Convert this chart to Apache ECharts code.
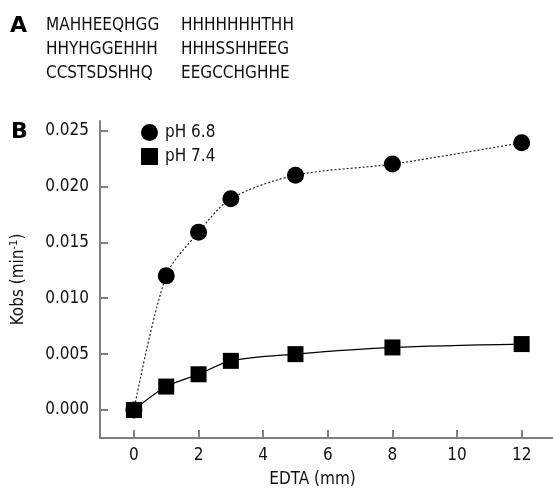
<!DOCTYPE html>
<html>
<head>
<meta charset="utf-8">
<script src="https://cdn.jsdelivr.net/npm/echarts@6/dist/echarts.min.js"></script>
<style>
html,body{margin:0;padding:0;background:#fff;}
#c{width:553px;height:493px;}
</style>
</head>
<body>
<div id="c"></div>
<script>
// ---- data ----
const edta = [0, 1, 2, 3, 5, 8, 12];
const ph68 = [0, 0.0120, 0.0159, 0.0189, 0.0210, 0.0220, 0.0239];
const ph74 = [0, 0.0021, 0.0032, 0.0044, 0.0050, 0.0056, 0.0059];
const xTicks = [0, 2, 4, 6, 8, 10, 12];
const yTicks = [0, 0.005, 0.010, 0.015, 0.020, 0.025];
const seqCol1 = ['MAHHEEQHGG', 'HHYHGGEHHH', 'CCSTSDSHHQ'];
const seqCol2 = ['HHHHHHHTHH', 'HHHSSHHEEG', 'EEGCCHGHHE'];
const seriesNames = ['pH 6.8', 'pH 7.4'];

const FONT = '"DejaVu Sans Condensed", "DejaVu Sans", sans-serif';
const FS = 17;
const TXT = '#111';
const AX = '#808080';

const chart = echarts.init(document.getElementById('c'), null, {renderer: 'canvas'});

const rowY = [26, 50, 74];
const graphics = [
  {type: 'text', left: 10, top: 15, style: {text: 'A', font: 'bold 22px "DejaVu Sans", sans-serif', fill: '#000'}},
  {type: 'text', left: 11, top: 121, style: {text: 'B', font: 'bold 22px "DejaVu Sans", sans-serif', fill: '#000'}}
];
seqCol1.forEach((t, i) => {
  graphics.push({type: 'text', x: 46, y: rowY[i], style: {text: t, font: FS + 'px ' + FONT, fill: TXT, verticalAlign: 'middle'}});
});
seqCol2.forEach((t, i) => {
  graphics.push({type: 'text', x: 181, y: rowY[i], style: {text: t, font: FS + 'px ' + FONT, fill: TXT, verticalAlign: 'middle'}});
});

chart.setOption({
  animation: false,
  backgroundColor: '#fff',
  textStyle: {fontFamily: FONT},
  graphic: graphics,
  grid: {left: 100, right: 0, top: 121, bottom: 53, containLabel: false},
  legend: {
    orient: 'vertical',
    left: 136,
    top: 119,
    itemWidth: 17,
    itemHeight: 17,
    itemGap: 7,
    textStyle: {fontSize: FS, fontFamily: FONT, color: TXT, padding: [0, 0, 0, 2]},
    data: [
      {name: seriesNames[0], icon: 'circle'},
      {name: seriesNames[1], icon: 'rect'}
    ]
  },
  xAxis: {
    type: 'value',
    min: -1.05,
    max: 12.97,
    name: 'EDTA (mm)',
    nameLocation: 'middle',
    nameGap: 33,
    nameTextStyle: {fontSize: FS, fontFamily: FONT, color: TXT, padding: [0, 28, 0, 0]},
    axisLine: {show: true, onZero: false, lineStyle: {color: AX, width: 2}},
    axisTick: {show: true, inside: true, length: 8, customValues: xTicks, lineStyle: {color: AX, width: 2}},
    axisLabel: {customValues: xTicks, fontSize: FS, fontFamily: FONT, color: TXT, margin: 9},
    splitLine: {show: false}
  },
  yAxis: {
    type: 'value',
    min: -0.0025,
    max: 0.02585,
    name: 'Kobs (min{sup|-1})',
    nameLocation: 'middle',
    nameGap: 72,
    nameTextStyle: {
      fontSize: FS, fontFamily: FONT, color: TXT,
      rich: {sup: {fontSize: 11, fontFamily: FONT, color: TXT, verticalAlign: 'top', padding: [0, 0, 8, 0]}}
    },
    axisLine: {show: true, onZero: false, lineStyle: {color: AX, width: 2}},
    axisTick: {show: true, inside: true, length: 8, customValues: yTicks, lineStyle: {color: AX, width: 2}},
    axisLabel: {customValues: yTicks, fontSize: FS, fontFamily: FONT, color: TXT, margin: 11,
      formatter: v => v.toFixed(3)},
    splitLine: {show: false}
  },
  series: [
    {
      name: seriesNames[0],
      type: 'line',
      data: edta.map((x, i) => [x, ph68[i]]),
      smooth: 0.3,
      symbol: 'circle',
      symbolSize: 17,
      itemStyle: {color: '#000'},
      lineStyle: {color: '#222', width: 1.2, type: [2, 2]},
      z: 2
    },
    {
      name: seriesNames[1],
      type: 'line',
      data: edta.map((x, i) => [x, ph74[i]]),
      smooth: 0.3,
      symbol: 'rect',
      symbolSize: 16,
      itemStyle: {color: '#000'},
      lineStyle: {color: '#000', width: 1.2},
      z: 3
    }
  ]
});
</script>
</body>
</html>
